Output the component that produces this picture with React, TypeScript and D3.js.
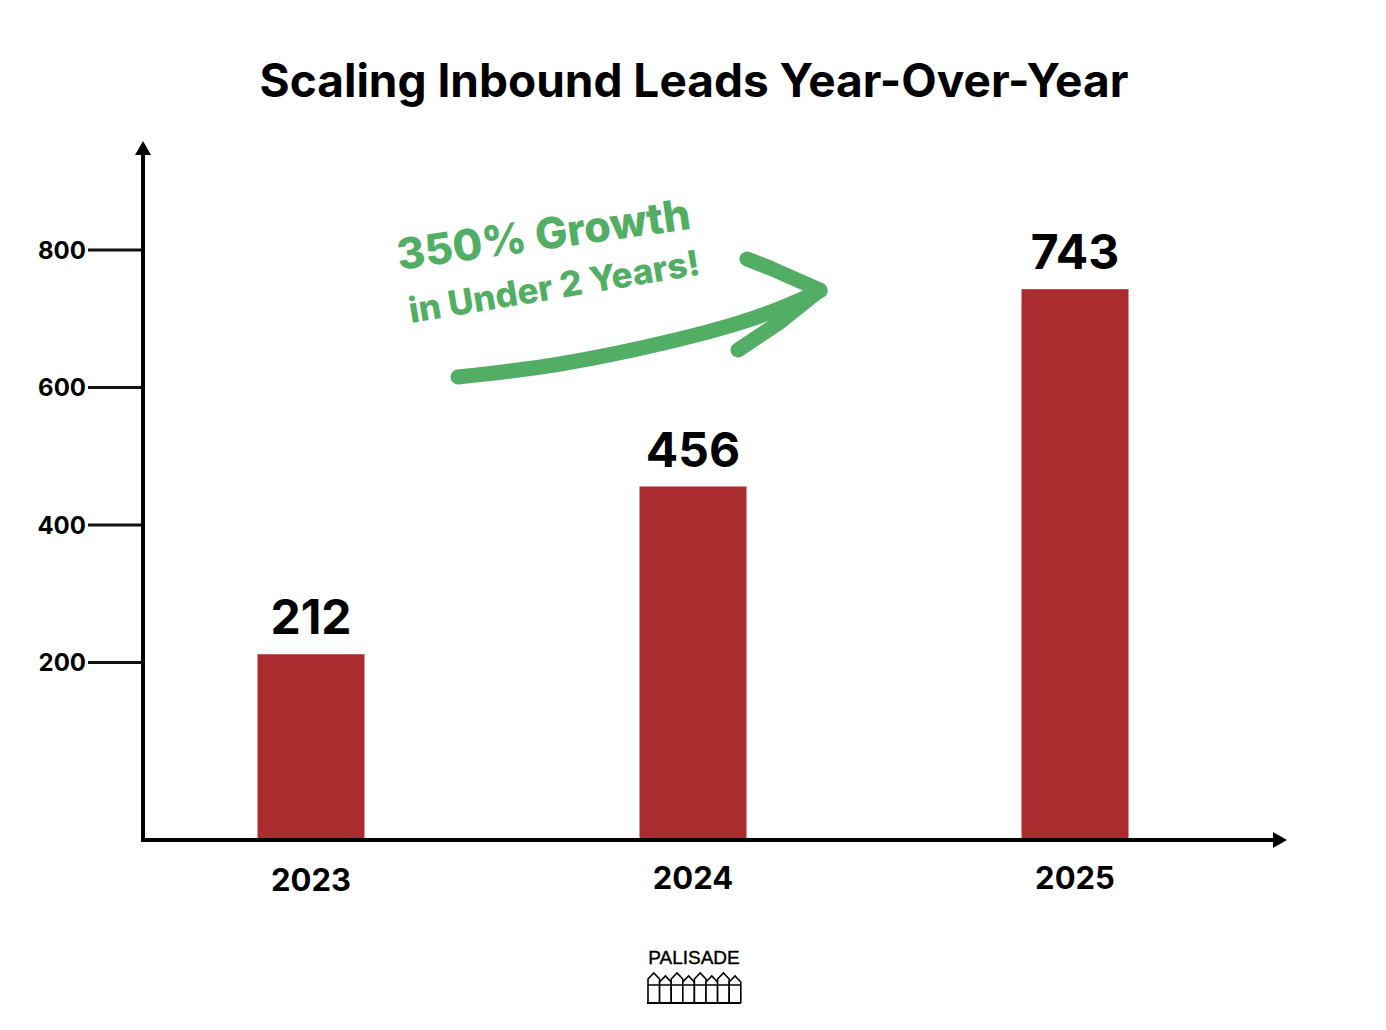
import * as d3 from "d3";
import { useEffect, useRef } from "react";

const years = ["2023", "2024", "2025"];
const leads = [212, 456, 743];
const yTicks = [200, 400, 600, 800];

const WIDTH = 1386;
const HEIGHT = 1030;
const BAR_COLOR = "#ab2c2e";
const GREEN = "#52ae64";
const FONT = "Inter, 'Open Sans', sans-serif";

function App() {
  const ref = useRef<SVGSVGElement | null>(null);

  useEffect(() => {
    document.body.style.margin = "0";
    const svg = d3.select(ref.current);
    svg.selectAll("*").remove();

    const originX = 143;
    const baseY = 840;

    // scales
    const xScale = d3.scalePoint<string>().domain(years).range([311, 1075]);
    const yScale = d3.scaleLinear().domain([0, 800]).range([800, 250]);
    const barWidth = 107;

    // title
    svg
      .append("text")
      .attr("x", 694)
      .attr("y", 97)
      .attr("text-anchor", "middle")
      .attr("font-family", FONT)
      .attr("font-weight", 700)
      .attr("font-size", 46)
      .text("Scaling Inbound Leads Year-Over-Year");

    // bars
    svg
      .selectAll("rect.bar")
      .data(years)
      .enter()
      .append("rect")
      .attr("class", "bar")
      .attr("x", (d) => (xScale(d) as number) - barWidth / 2)
      .attr("y", (_, i) => yScale(leads[i]))
      .attr("width", barWidth)
      .attr("height", (_, i) => baseY - yScale(leads[i]))
      .attr("fill", BAR_COLOR);

    // value labels
    svg
      .selectAll("text.value")
      .data(years)
      .enter()
      .append("text")
      .attr("class", "value")
      .attr("x", (d) => xScale(d) as number)
      .attr("y", (_, i) => yScale(leads[i]) - 20)
      .attr("text-anchor", "middle")
      .attr("font-family", FONT)
      .attr("font-weight", 700)
      .attr("font-size", 48)
      .text((_, i) => leads[i]);

    // y ticks
    const ticks = svg.append("g");
    ticks
      .selectAll("line")
      .data(yTicks)
      .enter()
      .append("line")
      .attr("x1", 88)
      .attr("x2", originX)
      .attr("y1", (d) => yScale(d))
      .attr("y2", (d) => yScale(d))
      .attr("stroke", "#111")
      .attr("stroke-width", 3);
    ticks
      .selectAll("text")
      .data(yTicks)
      .enter()
      .append("text")
      .attr("x", 86)
      .attr("y", (d) => yScale(d))
      .attr("dy", "0.36em")
      .attr("text-anchor", "end")
      .attr("font-family", FONT)
      .attr("font-weight", 700)
      .attr("font-size", 24)
      .text((d) => d);

    // x labels
    svg
      .selectAll("text.year")
      .data(years)
      .enter()
      .append("text")
      .attr("class", "year")
      .attr("x", (d) => xScale(d) as number)
      .attr("y", (_, i) => (i === 0 ? 891 : 889))
      .attr("text-anchor", "middle")
      .attr("font-family", FONT)
      .attr("font-weight", 700)
      .attr("font-size", 31)
      .text((d) => d);

    // axes with arrowheads
    svg
      .append("line")
      .attr("x1", originX)
      .attr("x2", originX)
      .attr("y1", baseY + 2)
      .attr("y2", 152)
      .attr("stroke", "#000")
      .attr("stroke-width", 4);
    svg
      .append("path")
      .attr("d", `M${originX - 8},${155} L${originX},${141} L${originX + 8},${155} Z`)
      .attr("fill", "#000");
    svg
      .append("line")
      .attr("x1", originX - 2)
      .attr("x2", 1276)
      .attr("y1", baseY)
      .attr("y2", baseY)
      .attr("stroke", "#000")
      .attr("stroke-width", 4);
    svg
      .append("path")
      .attr("d", `M1273,${baseY - 8} L1287,${baseY} L1273,${baseY + 8} Z`)
      .attr("fill", "#000");

    // growth annotation
    const note = svg.append("g").attr("fill", GREEN).attr("font-family", FONT).attr("font-weight", 800);
    note
      .append("text")
      .attr("transform", "translate(399,270) rotate(-8)")
      .attr("font-size", 43)
      .text("350% Growth");
    note
      .append("text")
      .attr("transform", "translate(411,323) rotate(-9.5)")
      .attr("font-size", 35)
      .text("in Under 2 Years!");

    const curve = d3
      .line()
      .curve(d3.curveBasis)([
        [458, 377],
        [560, 366],
        [680, 340],
        [760, 318],
        [820, 291],
      ]);
    svg
      .append("path")
      .attr("d", curve)
      .attr("fill", "none")
      .attr("stroke", GREEN)
      .attr("stroke-width", 15)
      .attr("stroke-linecap", "round");
    svg
      .append("path")
      .attr("d", "M747,259 L770,268 L820,290 L780,322 L738,350")
      .attr("fill", "none")
      .attr("stroke", GREEN)
      .attr("stroke-width", 15)
      .attr("stroke-linecap", "round")
      .attr("stroke-linejoin", "round");

    // logo
    const logo = svg.append("g");
    logo
      .append("text")
      .attr("x", 694)
      .attr("y", 964)
      .attr("text-anchor", "middle")
      .attr("font-family", "'Liberation Sans', Arial, sans-serif")
      .attr("font-size", 19)
      .attr("stroke", "#000")
      .attr("stroke-width", 0.4)
      .text("PALISADE");
    const pickets = d3.range(8);
    const pw = 11.6;
    logo
      .selectAll("path")
      .data(pickets)
      .enter()
      .append("path")
      .attr("d", (i) => {
        const x0 = 648 + i * pw;
        const top = i % 2 === 0 ? 973 : 976;
        return `M${x0},1003 L${x0},${top + 6} L${x0 + pw / 2},${top} L${x0 + pw},${top + 6} L${x0 + pw},1003`;
      })
      .attr("fill", "#fff")
      .attr("stroke", "#000")
      .attr("stroke-width", 1.6);
    logo
      .append("line")
      .attr("x1", 647)
      .attr("x2", 741)
      .attr("y1", 1003)
      .attr("y2", 1003)
      .attr("stroke", "#000")
      .attr("stroke-width", 2);
    logo
      .append("line")
      .attr("x1", 648)
      .attr("x2", 741)
      .attr("y1", 985)
      .attr("y2", 985)
      .attr("stroke", "#000")
      .attr("stroke-width", 1.4);
  }, []);

  return <svg ref={ref} width={WIDTH} height={HEIGHT} style={{ display: "block", background: "#fff" }} />;
}

export default App;
